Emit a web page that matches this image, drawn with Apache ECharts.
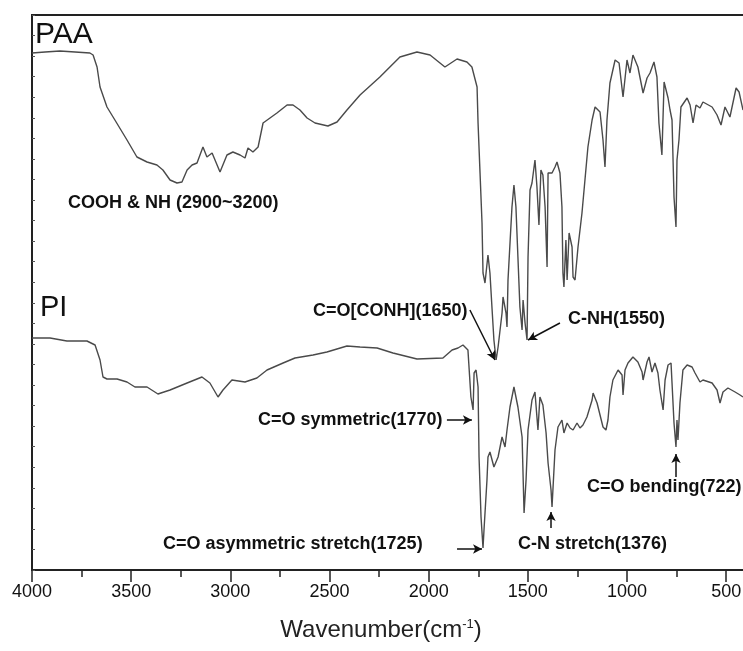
<!DOCTYPE html>
<html>
<head>
<meta charset="utf-8">
<script src="https://cdn.jsdelivr.net/npm/echarts@6/dist/echarts.min.js"></script>
<style>
  html, body { margin: 0; padding: 0; background: #fff; }
  #chart { width: 743px; height: 651px; }
</style>
</head>
<body>
<div id="chart"></div>
<script>
// PAA spectrum (wavenumber cm-1, arbitrary transmittance)
const paaWavenumber = [4000, 3934, 3859, 3783, 3708, 3692, 3672, 3657, 3622, 3582, 3521, 3471, 3420, 3370, 3340, 3304, 3269, 3244, 3218, 3193,
  3168, 3138, 3118, 3092, 3052, 3017, 2987, 2951, 2926, 2911, 2886, 2860, 2835, 2800, 2765, 2714, 2684, 2649, 2613, 2573,
  2508, 2462, 2412, 2346, 2246, 2145, 2059, 1993, 1918, 1857, 1807, 1782, 1756, 1751, 1741, 1731, 1726, 1716, 1701, 1691,
  1681, 1671, 1660, 1650, 1630, 1625, 1610, 1605, 1600, 1580, 1570, 1560, 1550, 1540, 1529, 1524, 1514, 1504, 1499, 1489,
  1479, 1464, 1454, 1444, 1434, 1424, 1413, 1403, 1398, 1378, 1363, 1353, 1338, 1328, 1323, 1318, 1308, 1302, 1292, 1277,
  1272, 1262, 1247, 1227, 1212, 1197, 1176, 1161, 1136, 1121, 1111, 1101, 1086, 1060, 1040, 1020, 1000, 985, 970, 945,
  919, 899, 884, 864, 849, 839, 824, 813, 793, 783, 773, 763, 753, 748, 738, 728, 697, 682, 667, 652,
  632, 617, 571, 546, 526, 506, 481, 450, 435, 415];
const paaSignal = [517, 518, 519, 518, 517, 515, 503, 483, 463, 450, 430, 413, 408, 405, 400, 390, 387, 388, 400, 405,
  407, 423, 413, 417, 398, 415, 418, 415, 412, 422, 418, 423, 447, 452, 457, 465, 465, 460, 452, 447,
  444, 448, 460, 475, 493, 513, 518, 515, 503, 511, 508, 503, 483, 447, 397, 347, 297, 287, 315, 297,
  263, 230, 210, 223, 257, 273, 257, 243, 290, 363, 385, 363, 313, 263, 240, 270, 247, 230, 313, 380,
  387, 410, 383, 345, 400, 395, 363, 303, 397, 397, 403, 408, 397, 363, 297, 283, 330, 290, 337, 323,
  293, 290, 323, 357, 390, 423, 450, 463, 458, 430, 403, 450, 487, 510, 507, 473, 510, 497, 515, 503,
  477, 492, 497, 508, 493, 447, 415, 488, 472, 460, 450, 373, 343, 410, 430, 463, 472, 465, 447, 465,
  462, 468, 463, 455, 445, 463, 453, 482, 478, 460];

// PI spectrum
const piWavenumber = [4000, 3909, 3824, 3723, 3682, 3657, 3642, 3622, 3571, 3521, 3481, 3420, 3365, 3304, 3218, 3143, 3103, 3062, 3037, 2992,
  2926, 2866, 2815, 2734, 2674, 2583, 2513, 2412, 2346, 2260, 2180, 2059, 1928, 1882, 1852, 1827, 1802, 1787, 1776, 1771,
  1761, 1751, 1746, 1736, 1726, 1721, 1706, 1701, 1691, 1671, 1650, 1630, 1615, 1605, 1590, 1570, 1550, 1529, 1519, 1509,
  1499, 1479, 1464, 1449, 1439, 1424, 1408, 1398, 1383, 1378, 1363, 1348, 1328, 1318, 1302, 1287, 1272, 1252, 1237, 1222,
  1202, 1176, 1171, 1151, 1136, 1121, 1106, 1096, 1086, 1071, 1045, 1025, 1020, 1010, 995, 970, 945, 924, 919, 899,
  889, 874, 859, 844, 834, 818, 808, 793, 778, 773, 763, 753, 748, 743, 733, 718, 697, 672, 657, 632,
  617, 571, 546, 531, 516, 491, 455, 430, 415];
const piSignal = [232, 232, 229, 229, 225, 210, 193, 191, 191, 188, 183, 183, 176, 180, 187, 193, 187, 173, 180, 190,
  188, 192, 200, 207, 212, 215, 218, 224, 223, 222, 217, 211, 212, 220, 222, 225, 220, 173, 160, 197,
  200, 183, 113, 53, 22, 40, 90, 113, 118, 103, 113, 133, 123, 140, 163, 183, 163, 133, 57, 90,
  140, 170, 178, 140, 173, 165, 137, 107, 80, 63, 120, 143, 150, 137, 147, 142, 140, 147, 142, 145,
  153, 170, 177, 167, 155, 143, 140, 150, 173, 190, 200, 195, 175, 200, 207, 213, 208, 198, 190, 208,
  213, 198, 207, 197, 180, 160, 190, 205, 207, 187, 147, 123, 150, 130, 167, 200, 205, 203, 197, 188,
  190, 187, 180, 167, 178, 182, 178, 175, 173];

const majorTicks = [4000, 3500, 3000, 2500, 2000, 1500, 1000, 500];
const minorTicks = [3750, 3250, 2750, 2250, 1750, 1250, 750];

// annotation arrows, [from, to] in [wavenumber, signal]
const arrows = [
  [[1792, 260], [1666, 210]],
  [[1338, 247], [1499, 230]],
  [[1908, 150], [1782, 150]],
  [[1857, 21], [1731, 21]],
  [[1383, 42], [1383, 58]],
  [[753, 93], [753, 116]]
];

const zip = (xs, ys) => xs.map((x, i) => [x, ys[i]]);

const chart = echarts.init(document.getElementById('chart'));

const annFont = 'bold 18px "Liberation Sans", Arial, sans-serif';
const annotation = (text, x, y) => ({
  type: 'text', x: x, y: y, z: 10,
  style: { text: text, font: annFont, fill: '#111', verticalAlign: 'middle' }
});

chart.setOption({
  animation: false,
  backgroundColor: '#fff',
  grid: {
    left: 32, right: -3, top: 15, bottom: 81,
    containLabel: false, outerBoundsMode: 'none',
    show: true, borderColor: '#222', borderWidth: 2
  },
  xAxis: [
    {
      type: 'value', min: 400, max: 4000, inverse: true, position: 'bottom',
      axisLine: { lineStyle: { color: '#222', width: 2 } },
      axisTick: { show: true, customValues: majorTicks, length: 12, lineStyle: { color: '#222', width: 1.5 } },
      axisLabel: {
        customValues: majorTicks, margin: 13, formatter: v => String(v),
        fontFamily: '"Liberation Sans", Arial, sans-serif', fontSize: 18, color: '#111'
      },
      splitLine: { show: false },
      name: 'Wavenumber(cm{sup|-1})',
      nameLocation: 'middle',
      nameGap: 48,
      nameTextStyle: {
        fontFamily: '"Liberation Sans", Arial, sans-serif', fontSize: 24, color: '#222',
        padding: [0, 16, 0, 0],
        rich: { sup: { fontSize: 13, verticalAlign: 'top', color: '#222' } }
      }
    },
    {
      type: 'value', min: 400, max: 4000, inverse: true, position: 'bottom',
      axisLine: { show: false },
      axisTick: { show: true, customValues: minorTicks, length: 7, lineStyle: { color: '#222', width: 1.5 } },
      axisLabel: { show: false, customValues: minorTicks },
      splitLine: { show: false }
    }
  ],
  yAxis: {
    type: 'value', min: 0, max: 555, interval: 555 / 27,
    axisLine: { show: true, lineStyle: { color: '#222', width: 2 } },
    axisTick: { inside: true, length: 3, lineStyle: { color: '#555' } },
    axisLabel: { show: false },
    splitLine: { show: false }
  },
  series: [
    {
      name: 'PAA', type: 'line', data: zip(paaWavenumber, paaSignal),
      showSymbol: false, lineStyle: { color: '#4a4a4a', width: 1.4 }
    },
    {
      name: 'PI', type: 'line', data: zip(piWavenumber, piSignal),
      showSymbol: false, lineStyle: { color: '#4a4a4a', width: 1.4 },
      markLine: {
        silent: true, symbol: ['none', 'arrow'], symbolSize: [7, 9],
        label: { show: false },
        lineStyle: { color: '#111', width: 1.5, type: 'solid' },
        data: arrows.map(a => [{ coord: a[0] }, { coord: a[1] }])
      }
    }
  ],
  graphic: [
    { type: 'text', x: 35, y: 35, style: { text: 'PAA', font: '30px "Liberation Sans", Arial, sans-serif', fill: '#111', verticalAlign: 'middle' } },
    { type: 'text', x: 40, y: 308, style: { text: 'PI', font: '29px "Liberation Sans", Arial, sans-serif', fill: '#111', verticalAlign: 'middle' } },
    annotation('COOH & NH (2900~3200)', 68, 203),
    annotation('C=O[CONH](1650)', 313, 311),
    annotation('C-NH(1550)', 568, 319),
    annotation('C=O symmetric(1770)', 258, 420),
    annotation('C=O asymmetric stretch(1725)', 163, 544),
    annotation('C-N stretch(1376)', 518, 544),
    annotation('C=O bending(722)', 587, 487)
  ]
});
</script>
</body>
</html>
